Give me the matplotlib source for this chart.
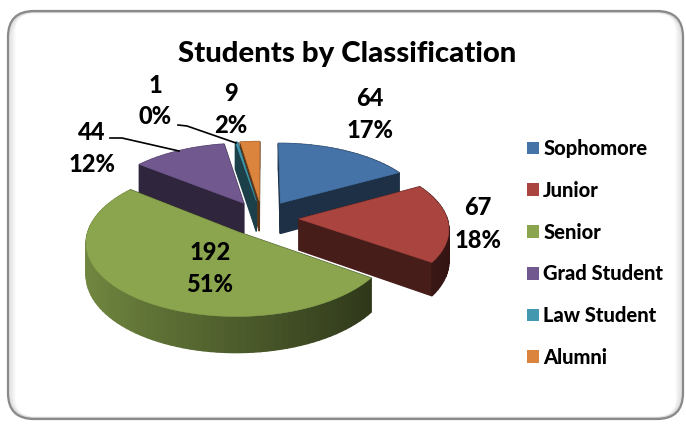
import numpy as np
import matplotlib
matplotlib.use("Agg")
import matplotlib.pyplot as plt
from matplotlib.patches import Polygon, FancyBboxPatch, Patch
from matplotlib.colors import to_rgb

plt.rcParams['font.family'] = ['Lato', 'DejaVu Sans']

categories = ["Sophomore", "Junior", "Senior", "Grad Student", "Law Student", "Alumni"]
students = [64, 67, 192, 44, 1, 9]
colors = ["#4572a7", "#a9443f", "#8aa54e", "#71588f", "#4198af", "#db843d"]

# label centres in pixels (count line, percent line)
label_pos = [(370, 98, 130), (478, 207, 240), (210, 253, 284),
             (92, 133, 164), (155, 85, 116), (231, 93, 125)]

# fake 3d pie: unit disc seen from above, near side bigger
cx, cy = 262, 218
rx, ry = 148, 70.3
persp = 0.119
explode = 0.25
depth = 31


def project(X, Y, z=0):
    p = 1 / (1 + persp * np.asarray(Y))
    return cx + rx * X * p, cy + (-ry * Y + depth * z) * p


def darker(col, f):
    return tuple(c * f for c in to_rgb(col))


fig = plt.figure(figsize=(6.86, 4.25), dpi=100)
ax = fig.add_axes([0, 0, 1, 1])
ax.set_xlim(0, 686)
ax.set_ylim(425, 0)
ax.axis("off")

# frame with soft inner shadow
for i in range(8):
    ax.add_patch(FancyBboxPatch((8 + i, 11 + i * 0.3), 675 - 2 * i, 408 - i * 0.6,
                                boxstyle="round,pad=0,rounding_size=%d" % (26 - i),
                                fc="none", ec="#808080", lw=1, alpha=0.22 * (1 - i / 8), zorder=1))
ax.add_patch(FancyBboxPatch((8, 11), 675, 408, boxstyle="round,pad=0,rounding_size=26",
                            fc="none", ec="#8a8a8a", lw=1.6, zorder=2))

total = sum(students)
edges = np.cumsum([0] + students) / total * 2 * np.pi

slices = []
for i in range(len(students)):
    a0, a1 = edges[i], edges[i + 1]
    mid = (a0 + a1) / 2
    slices.append((i, a0, a1, explode * np.sin(mid), explode * np.cos(mid)))

# far slices first
for i, a0, a1, ox, oy in sorted(slices, key=lambda s: -s[4]):
    col = colors[i]
    t = np.linspace(a0, a1, max(int((a1 - a0) * 25), 4))
    X = ox + np.sin(t)
    Y = oy + np.cos(t)

    # side faces, far to near
    faces = []
    for xe, ye in [(X[0], Y[0]), (X[-1], Y[-1])]:
        xs = np.array([ox, xe, xe, ox])
        ys = np.array([oy, ye, ye, oy])
        zs = np.array([0, 0, 1, 1])
        faces.append(((oy + ye) / 2, xs, ys, zs, darker(col, 0.42)))
    for k in range(len(t) - 1):
        xs = np.array([X[k], X[k + 1], X[k + 1], X[k]])
        ys = np.array([Y[k], Y[k + 1], Y[k + 1], Y[k]])
        zs = np.array([0, 0, 1, 1])
        f = 0.56 - 0.27 * np.sin((t[k] + t[k + 1]) / 2)
        faces.append(((Y[k] + Y[k + 1]) / 2, xs, ys, zs, darker(col, f)))
    for _, xs, ys, zs, fc in sorted(faces, key=lambda q: -q[0]):
        px, py = project(xs, ys, zs)
        ax.add_patch(Polygon(np.column_stack([px, py]), fc=fc, ec=fc, lw=1.0, zorder=3))

    # top face
    px, py = project(np.r_[ox, X], np.r_[oy, Y])
    ax.add_patch(Polygon(np.column_stack([px, py]), fc=col, ec=col, lw=0.4, zorder=3))

# data labels
for v, (x, y1, y2) in zip(students, label_pos):
    ax.text(x, y1, str(v), ha="center", va="center", fontsize=17, fontweight="black", color="black", zorder=5)
    ax.text(x, y2, "%d%%" % round(v / total * 100), ha="center", va="center",
            fontsize=17, fontweight="black", color="black", zorder=5)

# leader lines
ax.plot([110, 122, 179], [138, 138, 151], color="black", lw=1.2, zorder=4)
ax.plot([178, 187, 236], [125, 126, 143], color="black", lw=1.2, zorder=4)

ax.text(347, 54, "Students by Classification", ha="center", va="center",
        fontsize=21.2, fontweight="black", color="black", zorder=5)

handles = [Patch(fc=c, ec="none") for c in colors]
ax.legend(handles, categories, loc="upper left", bbox_to_anchor=(527 / 686, 1 - 139 / 425),
          frameon=False, prop={"size": 14.5, "weight": "black"},
          handlelength=0.6, handleheight=0.6, handletextpad=0.2,
          labelspacing=1.13, borderpad=0, borderaxespad=0)

fig.savefig("out.png", dpi=100)
